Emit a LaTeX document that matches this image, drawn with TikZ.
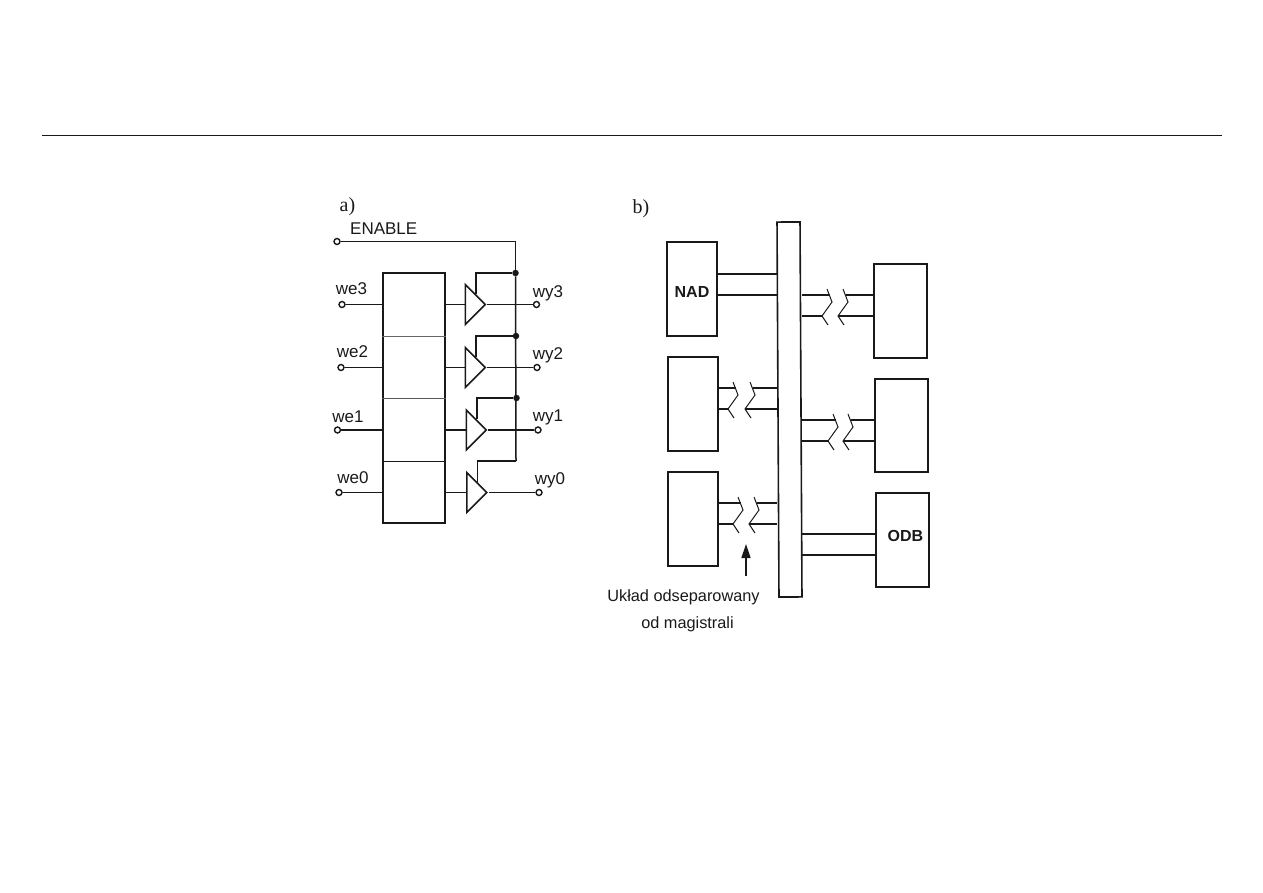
\documentclass[tikz,border=0pt]{standalone}
\usepackage{fontspec}
\setmainfont{Liberation Sans}
\newfontfamily\serifA{Liberation Serif}
\usetikzlibrary{shapes.geometric,calc,arrows.meta}
\definecolor{ink}{gray}{0.1}
\tikzset{
  wire/.style={line width=1.5pt,draw=ink},
  box/.style={draw=ink,line width=1.6pt,rectangle,inner sep=0pt,minimum width=#1},
  term/.style={circle,draw=ink,fill=white,line width=1.4pt,minimum size=6pt,inner sep=0pt},
  dotn/.style={circle,fill=ink,minimum size=6.5pt,inner sep=0pt},
  lab/.style={font=\fontsize{17}{19}\selectfont,inner sep=0pt,text=ink},
  note/.style={font=\fontsize{16.3}{18}\selectfont,inner sep=0pt,text=ink},
  boldlab/.style={font=\fontsize{16}{18}\selectfont\bfseries,inner sep=0pt,text=ink},
  serlab/.style={font=\fontsize{20}{22}\selectfont\serifA,inner sep=0pt,text=ink},
  buffer/.style={isosceles triangle,isosceles triangle stretches,draw=ink,line width=1.6pt,
    minimum width=40pt,minimum height=20pt,inner sep=0pt,anchor=lower side},
  squig/.style={line width=1pt,draw=ink},
}
% name, left node, right node, y of upper line, x of first and second break
\newcommand{\brklink}[6]{%
  \coordinate (#1ua) at ({#5+3},#4);
  \coordinate (#1la) at ({#5-5},#4+21);
  \coordinate (#1ub) at ({#6+3},#4);
  \coordinate (#1lb) at ({#6-5},#4+21);
  \draw[wire] (#2 |- #1ua) -- (#1ua);
  \draw[wire] (#2 |- #1la) -- (#1la);
  \draw[wire] (#1ub) -- (#3 |- #1ub);
  \draw[wire] (#1lb) -- (#3 |- #1lb);
  \draw[squig] ({#5},#4-6) -- ({#5+5},#4+7) -- ({#5-5},#4+21) -- ({#5+1},#4+30);
  \draw[squig] ({#6},#4-6) -- ({#6+5},#4+7) -- ({#6-5},#4+21) -- ({#6+1},#4+30);
}
\begin{document}
\begin{tikzpicture}[x=1pt,y=-1pt]
\useasboundingbox (0,0) rectangle (1263,893);
\coordinate (ruleL) at (42,135);
\coordinate (ruleR) at (1222,135);
\draw[line width=0.8pt,draw=ink] (ruleL) -- (ruleR);

% ---------- part a
\node[serlab] (la) at (347.5,207) {a)};
\node[lab,anchor=west] (lenable) at (350,229) {ENABLE};
\node[term] (en) at (337,241.5) {};
\node[box=62pt,minimum height=250pt] (mem) at (414,398) {};
\coordinate (d1) at (0,336);
\coordinate (d2) at (0,398);
\coordinate (d3) at (0,461);
\draw[line width=0.6pt,draw=black!60] (mem.west |- d1) -- (mem.east |- d1);
\draw[line width=0.6pt,draw=black!65] (mem.west |- d2) -- (mem.east |- d2);
\draw[line width=1pt,draw=ink] (mem.west |- d3) -- (mem.east |- d3);

\node[buffer] (b3) at (464.5,304.5) {};
\node[buffer] (b2) at (464.5,367.5) {};
\node[buffer] (b1) at (465.5,430) {};
\node[buffer] (b0) at (466,492.5) {};

\node[dotn] (t3) at (515.5,273) {};
\node[dotn] (t2) at (516,336) {};
\node[dotn] (t1) at (516.5,398) {};
\coordinate (t0) at (516,461);

\draw[wire] (en) -| (t3);
\draw[wire] (t3) -- (t0);
\foreach \b/\t in {b3/t3,b2/t2,b1/t1,b0/t0}{
  \coordinate (\b m) at ($(\b.apex)!.5!(\b.left corner)$);
  \draw[wire] (\b m) |- (\t);
}

\node[term] (we3) at (342,304.5) {};
\node[term] (we2) at (341,367.5) {};
\node[term] (we1) at (337.5,430) {};
\node[term] (we0) at (339,492.5) {};
\node[term] (wy3) at (536.5,304.5) {};
\node[term] (wy2) at (537,367.5) {};
\node[term] (wy1) at (538,430) {};
\node[term] (wy0) at (539,492.5) {};
\foreach \i in {0,1,2,3}{
  \draw[wire] (we\i) -- (mem.west |- we\i);
  \draw[wire] (mem.east |- we\i) -- (b\i.lower side);
  \draw[wire] (b\i.apex) -- (wy\i);
}
\node[lab] (lwe3) at (351.5,288.5) {we3};
\node[lab] (lwe2) at (352.5,352) {we2};
\node[lab] (lwe1) at (348,417) {we1};
\node[lab] (lwe0) at (353,478) {we0};
\node[lab] (lwy3) at (548,293) {wy3};
\node[lab] (lwy2) at (548,355) {wy2};
\node[lab] (lwy1) at (548,417) {wy1};
\node[lab] (lwy0) at (550,480) {wy0};

% ---------- part b
\node[serlab] (lb) at (641,208.5) {b)};
\node[box=23pt,minimum height=375pt,rotate=0.3] (bus) at (789.5,409.5) {};
\node[box=50.5pt,minimum height=94pt] (nad) at (692,289) {};
\node[boldlab] (lnad) at (692,292) {NAD};
\node[box=50.5pt,minimum height=94pt] (l2) at (693,404) {};
\node[box=50.5pt,minimum height=94pt] (l3) at (693,519) {};
\node[box=53pt,minimum height=94pt] (r1) at (900.5,311) {};
\node[box=53pt,minimum height=93pt] (r2) at (901.5,425.5) {};
\node[box=53pt,minimum height=94pt] (r3) at (902.5,540) {};
\node[boldlab] (lodb) at (905.5,535.5) {ODB};

\coordinate (n1) at (0,274);
\coordinate (n2) at (0,295);
\draw[wire] (nad.east |- n1) -- (bus.west |- n1);
\draw[wire] (nad.east |- n2) -- (bus.west |- n2);
\coordinate (o1) at (0,534);
\coordinate (o2) at (0,555);
\draw[wire,line width=1.8pt] (bus.east |- o1) -- (r3.west |- o1);
\draw[wire] (bus.east |- o2) -- (r3.west |- o2);

\brklink{x}{bus.east}{r1.west}{295}{827}{843}
\brklink{y}{bus.east}{r2.west}{420}{833}{848}
\brklink{z}{l2.east}{bus.west}{388}{733}{750}
\brklink{w}{l3.east}{bus.west}{503}{738}{754}

\coordinate (arrS) at (746,576);
\coordinate (arrE) at (746,544);
\draw[wire,-{Triangle[length=14pt,width=9pt]}] (arrS) -- (arrE);
\node[note] (lu1) at (683.5,597) {Układ odseparowany};
\node[note] (lu2) at (687.5,624) {od magistrali};
\end{tikzpicture}
\end{document}
